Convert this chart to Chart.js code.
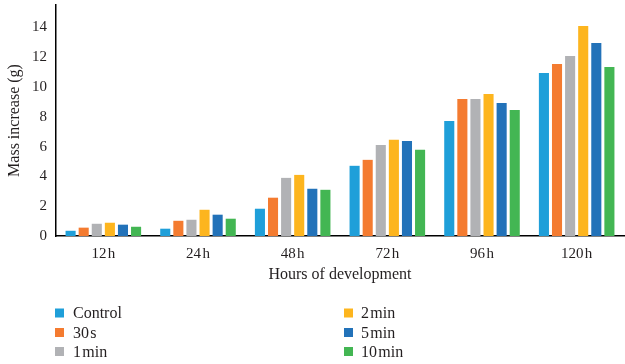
<!DOCTYPE html>
<html>
<head>
<meta charset="utf-8">
<script src="https://cdn.jsdelivr.net/npm/chart.js@4.4.1/dist/chart.umd.min.js"></script>
<style>
  html, body { margin: 0; padding: 0; background: #fff; }
  #wrap { width: 625px; height: 364px; position: relative; }
</style>
</head>
<body>
<div id="wrap"><canvas id="c" width="625" height="364"></canvas></div>
<script>
// Mass increase (g) by hours of development for each treatment duration
const hours = ['12\u200Ah', '24\u200Ah', '48\u200Ah', '72\u200Ah', '96\u200Ah', '120\u200Ah'];
const control = [0.35, 0.49, 1.83, 4.71, 7.72, 10.94];
const s30     = [0.56, 1.02, 2.57, 5.11, 9.20, 11.54];
const min1    = [0.82, 1.09, 3.90, 6.10, 9.20, 12.08];
const min2    = [0.89, 1.76, 4.10, 6.45, 9.53, 14.09];
const min5    = [0.76, 1.43, 3.17, 6.38, 8.93, 12.95];
const min10   = [0.62, 1.16, 3.10, 5.78, 8.46, 11.34];
const seriesNames = ['Control', '30\u200As', '1\u200Amin', '2\u200Amin', '5\u200Amin', '10\u200Amin'];
const yTicks = [0, 2, 4, 6, 8, 10, 12, 14];

const colors = ['#1f9fd9', '#f47b30', '#b1b2b5', '#fdb51e', '#2272b9', '#43b653'];
const values = [control, s30, min1, min2, min5, min10];
const FONT = '"Liberation Serif", "DejaVu Serif", serif';
const TEXT = '#231f20';

// Two-column legend below the axis title
const columnLegend = {
  id: 'columnLegend',
  afterDraw(chart) {
    const ctx = chart.ctx;
    ctx.save();
    ctx.font = '16px ' + FONT;
    ctx.textBaseline = 'middle';
    ctx.textAlign = 'left';
    const cols = [{ sq: 55, tx: 73 }, { sq: 344, tx: 361 }];
    const rows = [313, 332.5, 351.5];
    chart.data.datasets.forEach((ds, i) => {
      const c = cols[Math.floor(i / 3)];
      const y = rows[i % 3];
      ctx.fillStyle = ds.backgroundColor;
      ctx.fillRect(c.sq, y - 4.5, 9, 9);
      ctx.fillStyle = TEXT;
      ctx.fillText(ds.label, c.tx, y + 1);
    });
    ctx.restore();
  }
};

new Chart(document.getElementById('c'), {
  type: 'bar',
  data: {
    labels: hours,
    datasets: seriesNames.map((name, i) => ({
      label: name,
      data: values[i],
      backgroundColor: colors[i],
      borderWidth: 0,
      categoryPercentage: 0.83,
      barPercentage: 0.77
    }))
  },
  options: {
    responsive: false,
    animation: false,
    devicePixelRatio: 1,
    layout: { padding: { top: 5, right: 1, bottom: 78, left: 0 } },
    plugins: { legend: { display: false }, tooltip: { enabled: false } },
    scales: {
      x: {
        grid: { display: false, drawTicks: false },
        border: { display: true, color: '#000', width: 1.5 },
        ticks: { color: TEXT, font: { family: FONT, size: 15 }, padding: 9, maxRotation: 0 },
        title: { display: true, text: 'Hours of development', color: TEXT,
                 font: { family: FONT, size: 16 }, padding: { top: 0, bottom: 2 } },
        afterFit(scale) { scale.height = 50; scale.paddingLeft = 0; scale.paddingRight = 0; }
      },
      y: {
        min: 0,
        max: 15.5,
        grid: { display: false, drawTicks: false },
        border: { display: true, color: '#000', width: 1.5 },
        afterBuildTicks(scale) { scale.ticks = yTicks.map(v => ({ value: v })); },
        ticks: { color: TEXT, font: { family: FONT, size: 15 }, padding: 9 },
        title: { display: true, text: 'Mass increase (g)', color: TEXT,
                 font: { family: FONT, size: 16 }, padding: { top: 5, bottom: 0 } },
        afterFit(scale) { scale.width = 56; scale.paddingTop = 0; scale.paddingBottom = 0; }
      }
    }
  },
  plugins: [columnLegend]
});
</script>
</body>
</html>
